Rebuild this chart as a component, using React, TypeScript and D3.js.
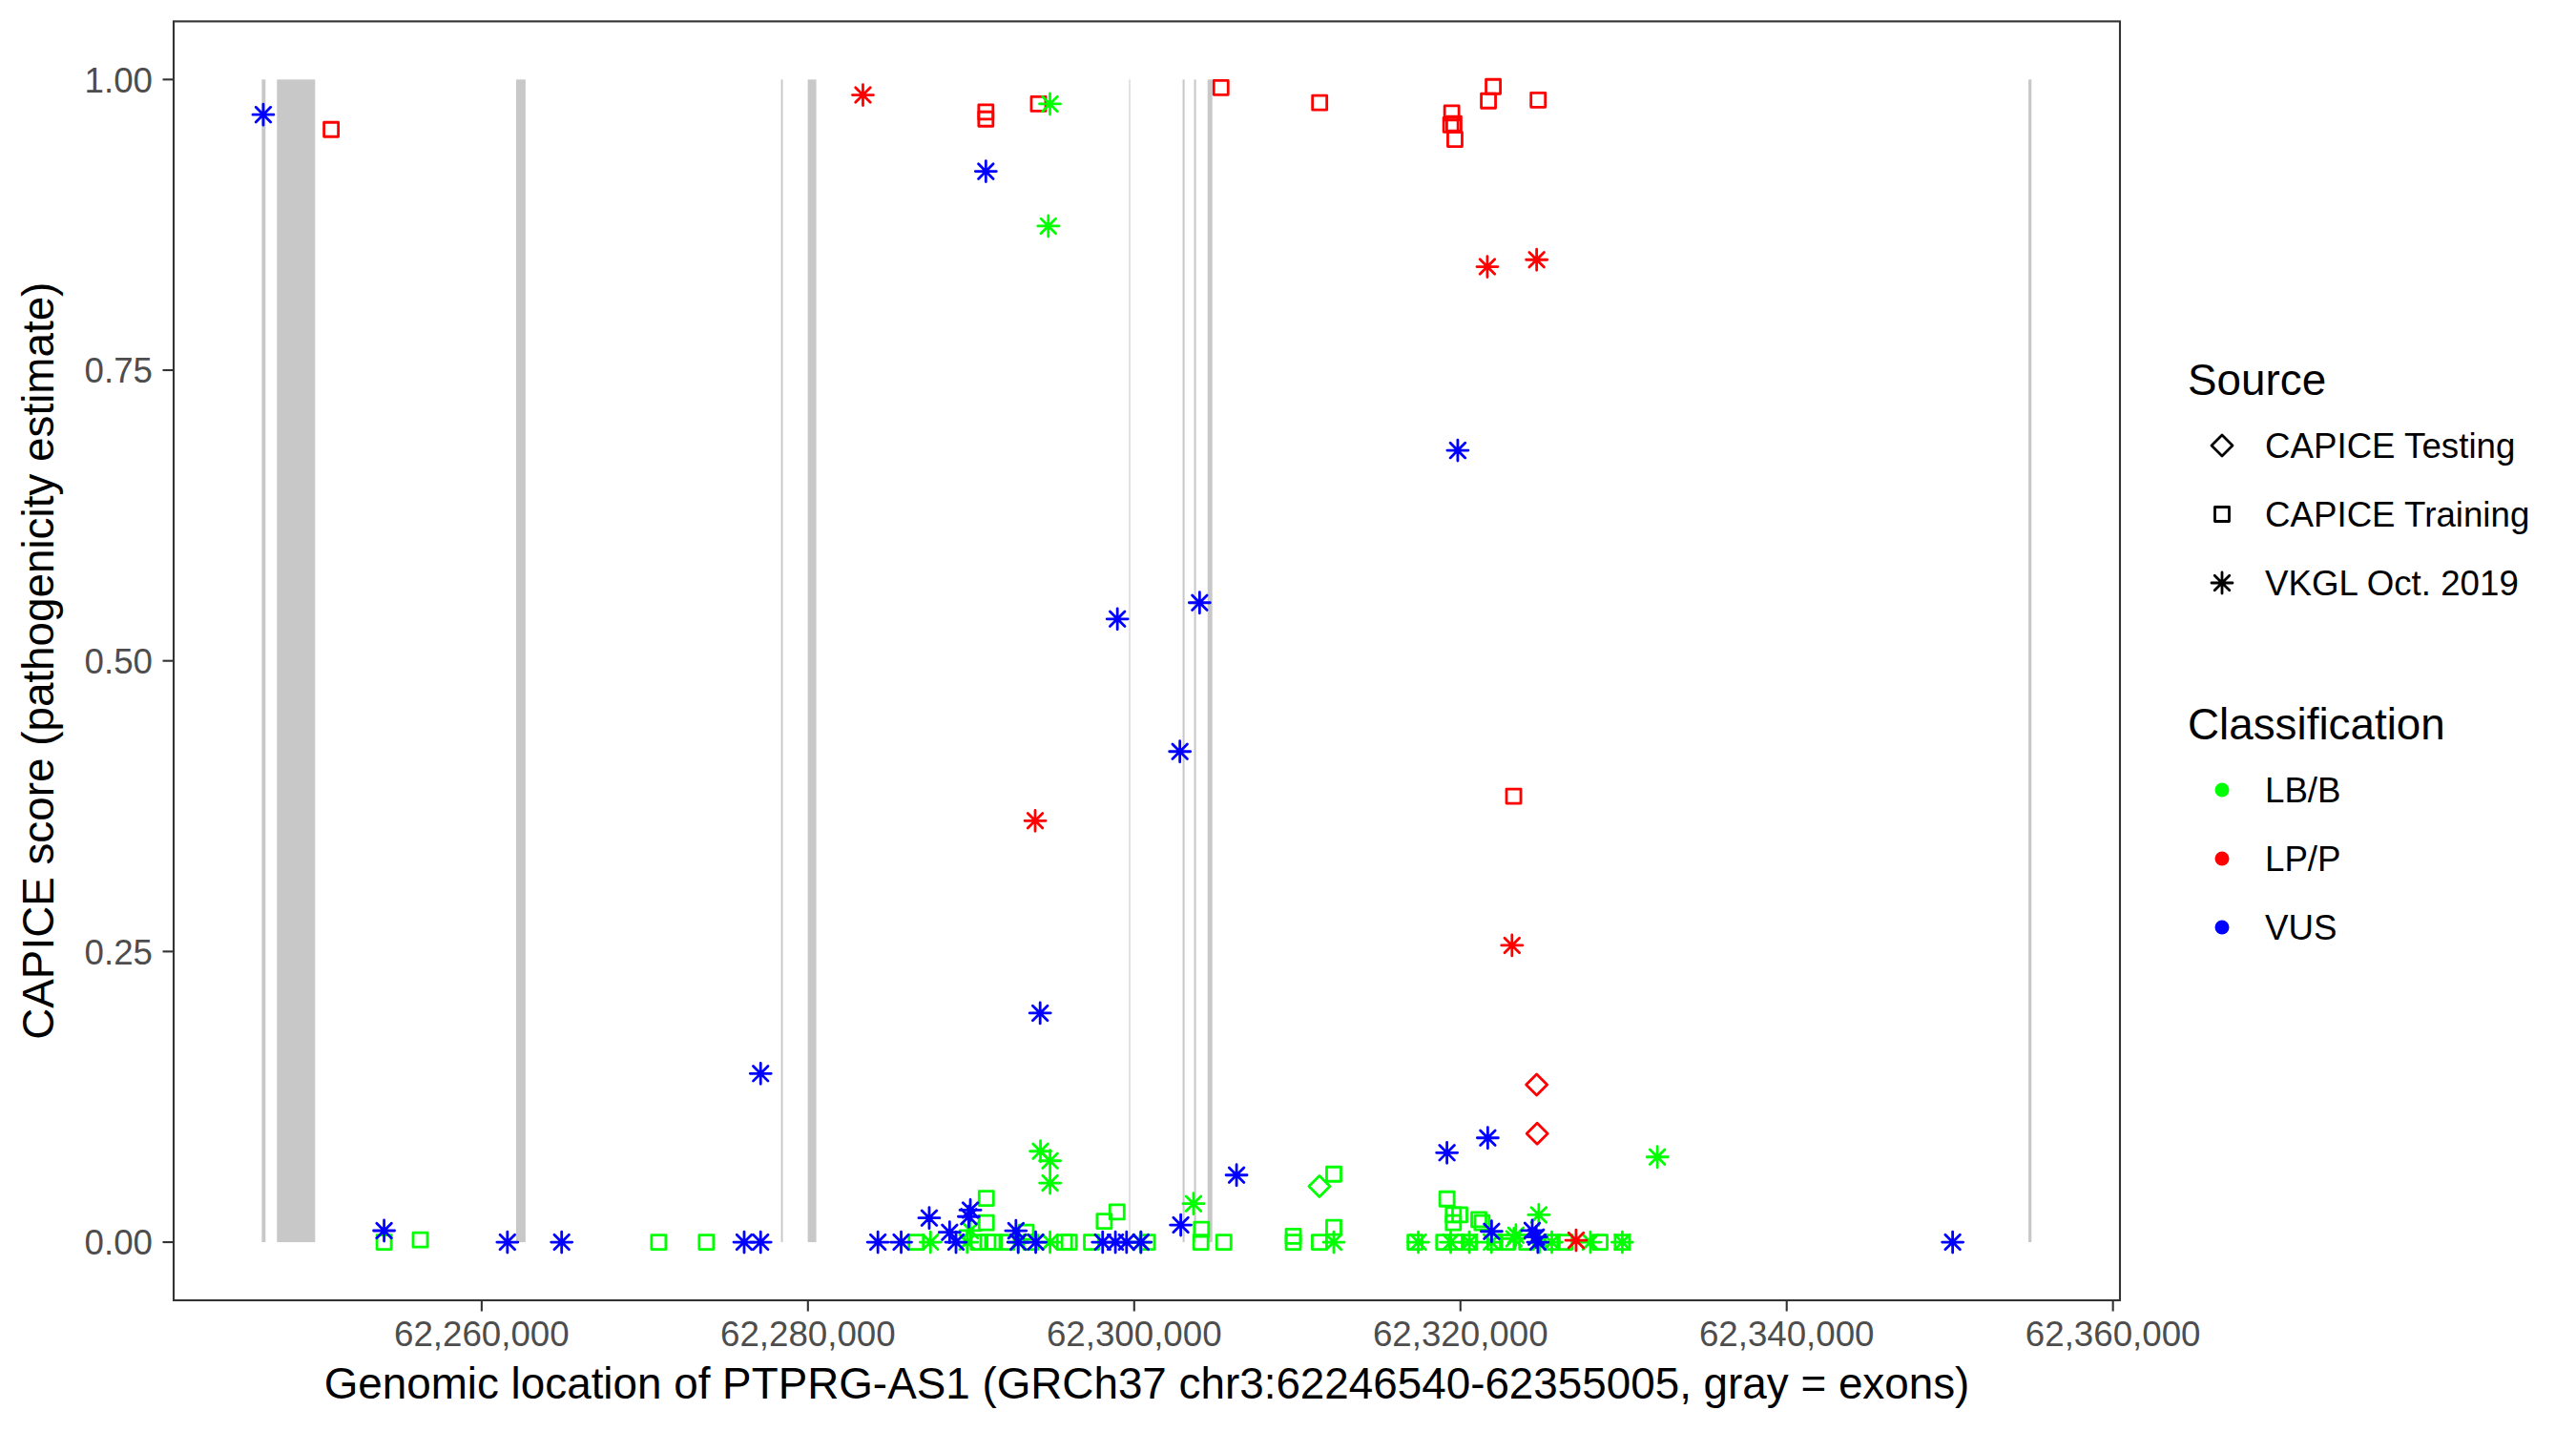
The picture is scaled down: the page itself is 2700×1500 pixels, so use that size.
import React from 'react';
import * as d3 from 'd3';

// gene + exon coordinates (GRCh37, chr3)
const geneStart = 62246540;
const geneEnd = 62355005;
const exons: [number, number][] = [
  [62246520, 62246750],
  [62247450, 62249790],
  [62262110, 62262690],
  [62278350, 62278460],
  [62279990, 62280510],
  [62299690, 62299750],
  [62302970, 62303090],
  [62303670, 62303790],
  [62304500, 62304790],
  [62354820, 62355005],
];

// [position, CAPICE score] per classification / source
const lbbTraining: [number, number][] = [
  [62254018, 0], [62256236, 0.002], [62270850, 0], [62273773, 0], [62286634, 0],
  [62290933, 0.0377], [62290933, 0.0167], [62290444, 0], [62291031, 0], [62291422, 0],
  [62292203, 0], [62293376, 0.0085], [62293669, 0], [62295721, 0], [62296014, 0],
  [62297382, 0], [62298164, 0.018], [62298946, 0.026], [62300802, 0], [62304125, 0.011],
  [62304086, 0], [62305493, 0], [62309753, 0], [62309753, 0.005], [62311355, 0],
  [62312235, 0.0126], [62312235, 0.0585], [62317218, 0], [62319173, 0.0372], [62319564, 0.0235],
  [62319955, 0.0235], [62319564, 0.0167], [62321127, 0.0194], [62321322, 0.0167], [62318977, 0],
  [62319759, 0], [62320541, 0], [62322104, 0], [62322886, 0], [62324059, 0],
  [62325622, 0], [62326404, 0], [62328553, 0], [62329921, 0],
];
const lbbTesting: [number, number][] = [[62311355, 0.048]];
const lbbVkgl: [number, number][] = [
  [62294836, 0.979], [62294736, 0.874], [62294255, 0.0782], [62294841, 0.07], [62294841, 0.0509],
  [62303636, 0.0331], [62332071, 0.0733], [62324801, 0.0235], [62287513, 0], [62289761, 0],
  [62289956, 0.01], [62292888, 0], [62294841, 0], [62300411, 0], [62312235, 0],
  [62317414, 0], [62319400, 0], [62320541, 0], [62321900, 0], [62323277, 0.003],
  [62323400, 0.006], [62324840, 0], [62325600, 0], [62327967, 0], [62329921, 0],
];
const vusVkgl: [number, number][] = [
  [62246611, 0.9698], [62290907, 0.921], [62319834, 0.681], [62298970, 0.536], [62304010, 0.55],
  [62302801, 0.422], [62294233, 0.197], [62277099, 0.145], [62306274, 0.0577], [62319173, 0.0769],
  [62321674, 0.0897], [62254018, 0.0099], [62261577, 0], [62264903, 0], [62276091, 0],
  [62277099, 0], [62284288, 0], [62285715, 0], [62287435, 0.0208], [62288686, 0.0085],
  [62289076, 0], [62289956, 0.0276], [62289860, 0.022], [62292751, 0.0098], [62292888, 0],
  [62293962, 0], [62298066, 0], [62298848, 0], [62299532, 0], [62300411, 0],
  [62302854, 0.0148], [62321909, 0.0093], [62324645, 0.0044], [62324743, 0], [62324400, 0.01],
  [62350172, 0],
];
const lppTraining: [number, number][] = [
  [62250773, 0.957], [62290907, 0.966], [62290907, 0.972], [62294133, 0.979], [62305320, 0.993],
  [62311368, 0.98], [62322007, 0.9939], [62321714, 0.9816], [62324763, 0.9824], [62319467, 0.9712],
  [62319408, 0.961], [62319600, 0.962], [62319662, 0.9485], [62323261, 0.3836],
];
const lppTesting: [number, number][] = [[62324672, 0.1354], [62324703, 0.0933]];
const lppVkgl: [number, number][] = [
  [62283371, 0.9867], [62293931, 0.3625], [62321648, 0.839], [62324672, 0.845], [62323160, 0.2553],
  [62327088, 0.0016],
];

const xTicks = [62260000, 62280000, 62300000, 62320000, 62340000, 62360000];
const yTicks = [0, 0.25, 0.5, 0.75, 1];
const sources = ['CAPICE Testing', 'CAPICE Training', 'VKGL Oct. 2019'];
const classes = ['LB/B', 'LP/P', 'VUS'];
const classColors = ['#00FF00', '#FF0000', '#0000FF'];

const W = 2700;
const H = 1500;
const panel = { left: 182, right: 2222, top: 22.4, bottom: 1363 };
const FONT = '"Liberation Sans", Arial, Helvetica, sans-serif';
const STROKE = 2.8;

const len = geneEnd - geneStart;
const x = d3.scaleLinear()
  .domain([geneStart - 0.05 * len, geneEnd + 0.05 * len])
  .range([panel.left, panel.right]);
const y = d3.scaleLinear()
  .domain([-0.05, 1.05])
  .range([panel.bottom, panel.top]);

const armA = 11;
const diag = armA / Math.SQRT2;
const shapePaths: Record<string, string> = {
  'CAPICE Testing': 'M0,-11L11,0L0,11L-11,0Z',
  'CAPICE Training': 'M-7.5,-7.5H7.5V7.5H-7.5Z',
  'VKGL Oct. 2019': `M${-armA},0H${armA}M0,${-armA}V${armA}M${-diag},${-diag}L${diag},${diag}M${-diag},${diag}L${diag},${-diag}`,
};

const groups: { data: [number, number][]; source: string; color: string }[] = [
  { data: lbbTraining, source: 'CAPICE Training', color: classColors[0] },
  { data: lbbTesting, source: 'CAPICE Testing', color: classColors[0] },
  { data: lppTraining, source: 'CAPICE Training', color: classColors[1] },
  { data: lbbVkgl, source: 'VKGL Oct. 2019', color: classColors[0] },
  { data: vusVkgl, source: 'VKGL Oct. 2019', color: classColors[2] },
  { data: lppTesting, source: 'CAPICE Testing', color: classColors[1] },
  { data: lppVkgl, source: 'VKGL Oct. 2019', color: classColors[1] },
];

const fmtX = d3.format(',');
const fmtY = d3.format('.2f');

export default function App() {
  const legX = 2329;
  const legTextX = 2374;
  return (
    <svg width={W} height={H} style={{ position: 'absolute', left: 0, top: 0, background: '#fff' }}
      fontFamily={FONT}>
      <rect x={0} y={0} width={W} height={H} fill="#fff" />

      {/* exons */}
      {exons.map(([s, e], i) => (
        <rect key={'ex' + i} x={x(s)} y={y(1)} width={Math.max(1, x(e) - x(s))} height={y(0) - y(1)}
          fill="#C8C8C8" />
      ))}

      {/* points */}
      {groups.map((g, gi) => (
        <g key={'g' + gi} fill="none" stroke={g.color} strokeWidth={STROKE} strokeLinecap="round"
          strokeLinejoin="round">
          {g.data.map(([pos, score], i) => (
            <path key={i} transform={`translate(${x(pos)},${y(score)})`} d={shapePaths[g.source]} />
          ))}
        </g>
      ))}

      {/* panel border */}
      <rect x={panel.left} y={panel.top} width={panel.right - panel.left} height={panel.bottom - panel.top}
        fill="none" stroke="#333333" strokeWidth={2.1} />

      {/* y axis */}
      {yTicks.map(t => (
        <g key={'y' + t}>
          <line x1={panel.left - 11.5} x2={panel.left} y1={y(t)} y2={y(t)} stroke="#333333" strokeWidth={2.1} />
          <text x={panel.left - 22} y={y(t)} dy="0.36em" textAnchor="end" fontSize={36.7} fill="#4D4D4D">
            {fmtY(t)}
          </text>
        </g>
      ))}

      {/* x axis */}
      {xTicks.map(t => (
        <g key={'x' + t}>
          <line x1={x(t)} x2={x(t)} y1={panel.bottom} y2={panel.bottom + 11.5} stroke="#333333" strokeWidth={2.1} />
          <text x={x(t)} y={1411} textAnchor="middle" fontSize={36.7} fill="#4D4D4D">
            {fmtX(t)}
          </text>
        </g>
      ))}

      <text x={(panel.left + panel.right) / 2} y={1466} textAnchor="middle" fontSize={45.8} fill="#000">
        Genomic location of PTPRG-AS1 (GRCh37 chr3:62246540-62355005, gray = exons)
      </text>
      <text transform={`translate(39,${(panel.top + panel.bottom) / 2}) rotate(-90)`} textAnchor="middle"
        dy="0.36em" fontSize={45.8} fill="#000">
        CAPICE score (pathogenicity estimate)
      </text>

      {/* legend: source */}
      <text x={2293} y={398} dy="0.36em" fontSize={45.8} fill="#000">Source</text>
      {sources.map((s, i) => (
        <g key={'ls' + i}>
          <path transform={`translate(${legX},${467 + i * 72})`} d={shapePaths[s]} fill="none" stroke="#000"
            strokeWidth={STROKE} strokeLinecap="round" strokeLinejoin="round" />
          <text x={legTextX} y={467 + i * 72} dy="0.36em" fontSize={36.7} fill="#000">{s}</text>
        </g>
      ))}

      {/* legend: classification */}
      <text x={2293} y={759} dy="0.36em" fontSize={45.8} fill="#000">Classification</text>
      {classes.map((c, i) => (
        <g key={'lc' + i}>
          <circle cx={legX} cy={828 + i * 72} r={7.5} fill={classColors[i]} />
          <text x={legTextX} y={828 + i * 72} dy="0.36em" fontSize={36.7} fill="#000">{c}</text>
        </g>
      ))}
    </svg>
  );
}
